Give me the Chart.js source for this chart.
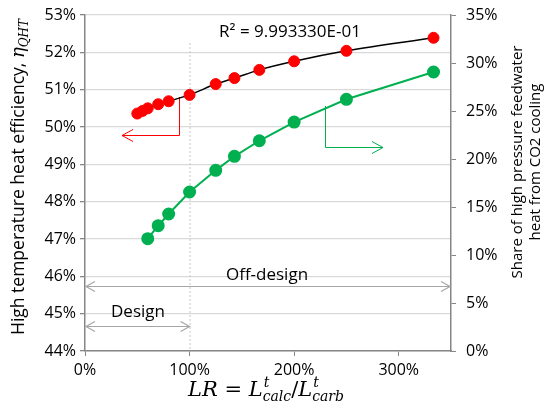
<!DOCTYPE html>
<html>
<head>
<meta charset="utf-8">
<script src="https://cdn.jsdelivr.net/npm/chart.js@4"></script>
<style>
  html, body { margin: 0; padding: 0; background: #fff; }
  #chart { display: block; }
</style>
</head>
<body>
<canvas id="chart" width="547" height="416"></canvas>
<script>
// load ratio LR (%) for the efficiency runs
const lrEff = [50, 55, 60, 70, 80, 100, 125, 142.9, 166.7, 200, 250, 333.3];
// high temperature heat efficiency (%)
const effValues = [50.36, 50.43, 50.50, 50.61, 50.69, 50.86, 51.15, 51.31, 51.53, 51.76, 52.04, 52.39];
// load ratio LR (%) for the CO2 cooling share
const lrShare = [60, 70, 80, 100, 125, 142.9, 166.7, 200, 250, 333.3];
// share of HP feedwater heat from CO2 cooling (%)
const shareValues = [11.7, 13.05, 14.27, 16.56, 18.82, 20.28, 21.9, 23.85, 26.22, 29.06];

const r2Text = 'R² = 9.993330E-01';

const FONT = '"Open Sans", sans-serif';
const MATH = '"DejaVu Serif", serif';
const GRAY = '#868686';

function pts(xs, ys) {
  return xs.map((x, i) => ({x: x, y: ys[i]}));
}

// open arrow head pointing in direction (dx, dy)
function head(ctx, x, y, dx, dy, len, half) {
  const px = -dy, py = dx;
  ctx.beginPath();
  ctx.moveTo(x - dx * len + px * half, y - dy * len + py * half);
  ctx.lineTo(x, y);
  ctx.lineTo(x - dx * len - px * half, y - dy * len - py * half);
  ctx.stroke();
}

function doubleArrow(ctx, x1, x2, y) {
  ctx.beginPath();
  ctx.moveTo(x1, y);
  ctx.lineTo(x2, y);
  ctx.stroke();
  head(ctx, x1, y, -1, 0, 9, 5);
  head(ctx, x2, y, 1, 0, 9, 5);
}

// draws a run of [text, font, dy] pieces starting at x
function runWidth(ctx, parts) {
  let w = 0;
  parts.forEach(p => { ctx.font = p[1]; w += ctx.measureText(p[0]).width; });
  return w;
}
function drawRun(ctx, parts, x, y) {
  parts.forEach(p => {
    ctx.font = p[1];
    ctx.fillText(p[0], x, y + (p[2] || 0));
    x += ctx.measureText(p[0]).width;
  });
}

// keep the vertical axes from pushing the plot area down
function fixWidth(w) {
  return s => { s.width = w; s.paddingTop = 0; s.paddingBottom = 0; };
}

const marks = {
  id: 'marks',
  beforeDatasetsDraw(chart) {
    const ctx = chart.ctx;
    const x = chart.scales.x, y = chart.scales.y;
    ctx.save();

    // design point marker
    ctx.strokeStyle = '#c8c8c8';
    ctx.lineWidth = 1;
    ctx.setLineDash([2, 2]);
    ctx.beginPath();
    ctx.moveTo(x.getPixelForValue(100) + 0.5, 43);
    ctx.lineTo(x.getPixelForValue(100) + 0.5, y.bottom);
    ctx.stroke();
    ctx.setLineDash([]);

    // red arrow -> left axis
    ctx.strokeStyle = '#ff0000';
    ctx.beginPath();
    ctx.moveTo(179.5, 97);
    ctx.lineTo(179.5, 135.5);
    ctx.lineTo(122, 135.5);
    ctx.stroke();
    head(ctx, 122, 135.5, -1, 0, 11, 6);

    // green arrow -> right axis
    ctx.strokeStyle = '#00b050';
    ctx.beginPath();
    ctx.moveTo(325.5, 106);
    ctx.lineTo(325.5, 147.5);
    ctx.lineTo(383, 147.5);
    ctx.stroke();
    head(ctx, 383, 147.5, 1, 0, 11, 6);

    // design / off-design ranges
    ctx.strokeStyle = '#a6a6a6';
    ctx.lineWidth = 1.2;
    doubleArrow(ctx, x.getPixelForValue(0) + 1, x.getPixelForValue(350) - 1, 286.5);
    doubleArrow(ctx, x.getPixelForValue(0) + 1, x.getPixelForValue(100), 326.5);

    ctx.fillStyle = '#000';
    ctx.textAlign = 'center';
    ctx.textBaseline = 'middle';
    ctx.font = '17px ' + FONT;
    ctx.fillText('Off-design', 267, 275);
    ctx.fillText('Design', 138, 312);
    ctx.fillText(r2Text, 290, 32);
    ctx.restore();
  },
  afterDraw(chart) {
    const ctx = chart.ctx;
    ctx.save();
    ctx.fillStyle = '#000';
    ctx.textBaseline = 'alphabetic';
    ctx.textAlign = 'left';

    // x axis title: LR = L^t_calc / L^t_carb
    const mi = 'italic 21px ' + MATH, mu = '21px ' + MATH, ms = 'italic 14px ' + MATH;
    const xParts = [['LR', mi], [' = ', mu], ['L', mi]];
    const tail = [['/', mu], ['L', mi]];
    let w = runWidth(ctx, xParts) + runWidth(ctx, [['calc', ms]]) + runWidth(ctx, tail) + runWidth(ctx, [['carb', ms]]);
    let sx = 266 - w / 2, by = 396;
    const drawScript = (sx, sup, sub) => {
      ctx.font = ms;
      ctx.fillText(sup, sx + 1, by - 9);
      ctx.fillText(sub, sx, by + 5);
      return ctx.measureText(sub).width;
    };
    drawRun(ctx, xParts, sx, by);
    sx += runWidth(ctx, xParts);
    sx += drawScript(sx, 't', 'calc');
    drawRun(ctx, tail, sx, by);
    sx += runWidth(ctx, tail);
    drawScript(sx, 't', 'carb');

    // left axis title
    ctx.save();
    ctx.translate(24, 177);
    ctx.rotate(-Math.PI / 2);
    const lParts = [['High temperature heat efficiency, ', '17.5px ' + FONT], ['η', 'italic 18px ' + MATH], ['QHT', 'italic 12px ' + MATH, 4]];
    drawRun(ctx, lParts, -runWidth(ctx, lParts) / 2, 0);
    ctx.restore();

    // right axis title
    ctx.save();
    ctx.translate(518, 162);
    ctx.rotate(-Math.PI / 2);
    ctx.textAlign = 'center';
    ctx.textBaseline = 'middle';
    ctx.font = '15px ' + FONT;
    ctx.fillText('Share of high pressure feedwater', 0, 0);
    ctx.fillText('heat from CO2 cooling', 0, 18);
    ctx.restore();

    ctx.restore();
  }
};

const tickFont = {family: FONT, size: 16};

new Chart(document.getElementById('chart'), {
  type: 'scatter',
  data: {
    datasets: [
      {
        data: pts(lrEff, effValues),
        yAxisID: 'y',
        backgroundColor: '#ff0000',
        borderColor: '#ff0000',
        pointRadius: 5.5,
        showLine: false,
        order: 1
      },
      {
        // trendline through the efficiency points
        data: pts(lrEff, effValues),
        yAxisID: 'y',
        borderColor: '#000',
        borderWidth: 1.5,
        pointRadius: 0,
        showLine: true,
        cubicInterpolationMode: 'monotone',
        order: 2
      },
      {
        data: pts(lrShare, shareValues),
        yAxisID: 'y1',
        backgroundColor: '#00b050',
        borderColor: '#00b050',
        borderWidth: 2,
        pointRadius: 5.5,
        showLine: true,
        order: 3
      }
    ]
  },
  options: {
    responsive: false,
    animation: false,
    layout: {padding: {top: 15, left: 0, right: 0, bottom: 0}},
    plugins: {legend: {display: false}, tooltip: {enabled: false}},
    scales: {
      x: {
        type: 'linear',
        min: 0, max: 350,
        afterBuildTicks: s => { s.ticks = [0, 100, 200, 300].map(v => ({value: v})); },
        ticks: {callback: v => v + '%', font: tickFont, color: '#000', padding: 5, maxRotation: 0},
        grid: {drawOnChartArea: false, color: GRAY, tickLength: 5},
        border: {color: GRAY, width: 1.5},
        afterFit: s => { s.height = 65; }
      },
      y: {
        position: 'left',
        min: 44, max: 53,
        ticks: {stepSize: 1, callback: v => v + '%', font: tickFont, color: '#000', padding: 4},
        grid: {color: '#d9d9d9', lineWidth: 1.3, tickColor: GRAY, tickLength: 5},
        border: {color: GRAY, width: 1.5},
        afterFit: fixWidth(85)
      },
      y1: {
        position: 'right',
        min: 0, max: 35,
        ticks: {stepSize: 5, callback: v => v + '%', font: tickFont, color: '#000', padding: 10},
        grid: {drawOnChartArea: false, color: GRAY, tickLength: 5},
        border: {color: GRAY, width: 1.5},
        afterFit: fixWidth(96)
      }
    }
  },
  plugins: [marks]
});
</script>
</body>
</html>
